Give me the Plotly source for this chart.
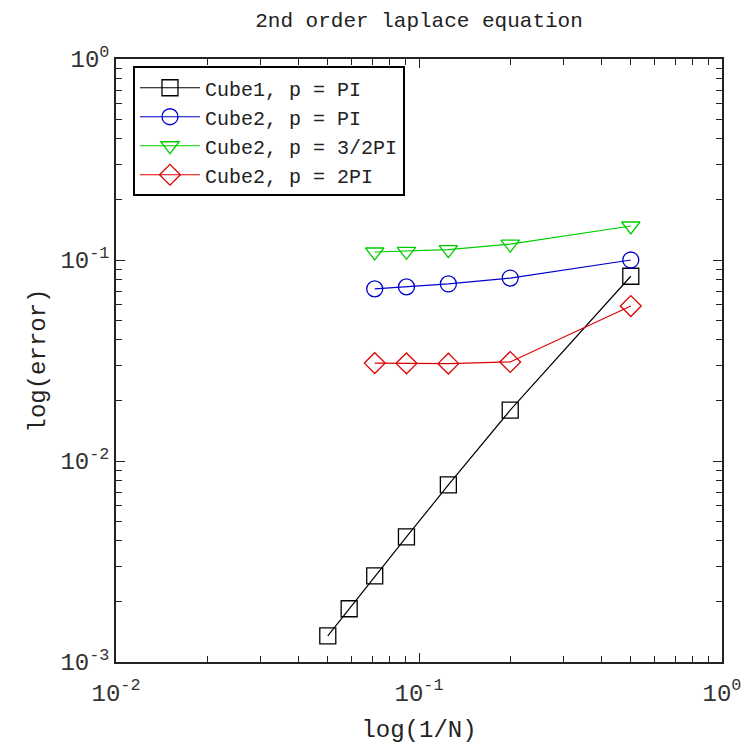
import plotly.graph_objects as go

x_cube1 = [0.05, 1/17, 1/14, 1/11, 1/8, 1/5, 1/2]
err_cube1 = [1.35e-3, 1.84e-3, 2.68e-3, 4.19e-3, 7.6e-3, 1.79e-2, 8.3e-2]

x_cube2 = [1/14, 1/11, 1/8, 1/5, 1/2]
err_cube2_pi = [0.0718, 0.0735, 0.076, 0.0813, 0.100]
err_cube2_32pi = [0.1096, 0.1105, 0.1125, 0.120, 0.1476]
err_cube2_2pi = [0.0307, 0.0306, 0.0305, 0.0311, 0.059]

names = ["Cube1, p = PI", "Cube2, p = PI", "Cube2, p = 3/2PI", "Cube2, p = 2PI"]
colors = ["#000000", "#0000cc", "#00cc00", "#dd0000"]
symbols = ["square-open", "circle-open", "triangle-down-open", "diamond-open"]

x_ticks = [0.01, 0.1, 1]
x_ticktext = ["10<sup>-2</sup>", "10<sup>-1</sup>", "10<sup>0</sup>"]
y_ticks = [0.001, 0.01, 0.1, 1]
y_ticktext = ["10<sup>-3</sup>", "10<sup>-2</sup>", "10<sup>-1</sup>", "10<sup>0</sup>"]

FONT = "Liberation Mono, Courier New, monospace"

series = [(x_cube1, err_cube1), (x_cube2, err_cube2_pi), (x_cube2, err_cube2_32pi), (x_cube2, err_cube2_2pi)]

fig = go.Figure()
for (xs, ys), n, c, s in zip(series, names, colors, symbols):
    fig.add_trace(go.Scatter(
        x=xs, y=ys, name=n, mode="lines+markers",
        line=dict(color=c, width=1.2),
        marker=dict(symbol=s, size=16, color=c, line=dict(width=1.3, color=c)),
    ))

minor_x = [m * 10**k for k in (-2, -1) for m in range(2, 10)]
minor_y = [m * 10**k for k in (-3, -2, -1) for m in range(2, 10)]

axis_common = dict(
    showline=True, linecolor="#222", linewidth=1.5, mirror="ticks",
    ticks="inside", ticklen=9, tickwidth=1.3, tickcolor="#222",
    showgrid=False, zeroline=False, automargin=False,
    tickfont=dict(family=FONT, size=24, color="#333"),
    title_font=dict(family=FONT, size=24, color="#222"),
)

fig.update_xaxes(type="log", range=[-2, 0], tickmode="array", tickvals=x_ticks, ticktext=x_ticktext,
                 minor=dict(tickmode="array", tickvals=minor_x, ticks="inside", ticklen=6, tickwidth=1.2, tickcolor="#222"),
                 ticklabelstandoff=8,
                 title_text="log(1/N)", title_standoff=18, **axis_common)
fig.update_yaxes(type="log", range=[-3, 0], tickmode="array", tickvals=y_ticks, ticktext=y_ticktext,
                 minor=dict(tickmode="array", tickvals=minor_y, ticks="inside", ticklen=6, tickwidth=1.2, tickcolor="#222"),
                 ticklabelstandoff=0,
                 title_text="log(error)", title_standoff=8, **axis_common)

fig.update_layout(
    width=748, height=744,
    margin=dict(l=116, r=26, t=59, b=82),
    paper_bgcolor="white", plot_bgcolor="white",
    title=dict(text="2nd order laplace equation", x=(116 + 303) / 748, xanchor="center", y=1 - 20 / 744, yanchor="middle",
               font=dict(family=FONT, size=21, color="#222")),
    legend=dict(x=0.028, y=0.988, xanchor="left", yanchor="top",
                bgcolor="white", bordercolor="#000", borderwidth=2,
                font=dict(family=FONT, size=20, color="#222"),
                itemwidth=60, tracegroupgap=0),
    showlegend=True,
)

fig.write_html("out.html")
